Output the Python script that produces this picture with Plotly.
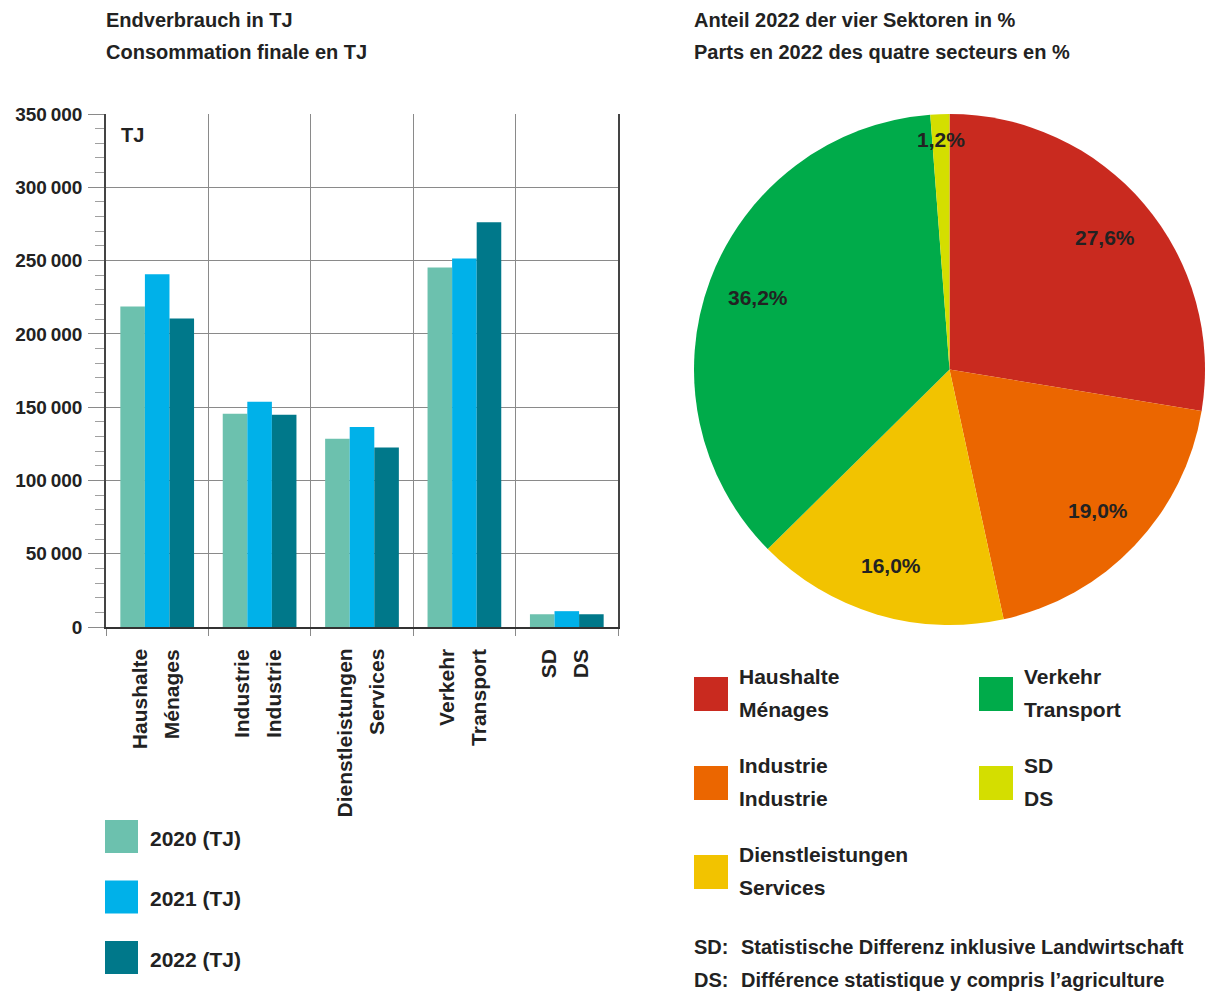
import math
import plotly.graph_objects as go

W, H = 1219, 994
OFF = 8  # the page body margin shifts the figure by this many pixels

# --- data -----------------------------------------------------------------
CAT_DE = ["Haushalte", "Industrie", "Dienstleistungen", "Verkehr", "SD"]
CAT_FR = ["Ménages", "Industrie", "Services", "Transport", "DS"]

YEARS = ["2020 (TJ)", "2021 (TJ)", "2022 (TJ)"]
TJ_2020 = [218700, 145500, 128500, 245300, 8700]
TJ_2021 = [240600, 153700, 136500, 251400, 10800]
TJ_2022 = [210400, 144800, 122400, 276100, 8700]
BAR_COLORS = ["#6cc1ae", "#00b1e9", "#00788a"]

Y_TICKS = [0, 50000, 100000, 150000, 200000, 250000, 300000, 350000]
Y_LABELS = ["0", "50\u2009000", "100\u2009000", "150\u2009000", "200\u2009000",
            "250\u2009000", "300\u2009000", "350\u2009000"]

PIE_LABELS = ["Haushalte", "Industrie", "Dienstleistungen", "Verkehr", "SD"]
PIE_LABELS_FR = ["Ménages", "Industrie", "Services", "Transport", "DS"]
PIE_SHARES = [27.6, 19.0, 16.0, 36.2, 1.2]
PIE_TEXT = ["27,6%", "19,0%", "16,0%", "36,2%", "1,2%"]
PIE_COLORS = ["#c92a1f", "#eb6600", "#f2c300", "#00ab4a", "#d4de00"]

FONT = "Liberation Sans, Arial, sans-serif"
TXT = "#222222"


def px(x):
    return (x - OFF) / W


def py(y):
    return 1 - (y - OFF) / H


def label(x, y, text, size=21, xanchor="left", yanchor="middle", **kw):
    d = dict(x=x, y=y, text=f"<b>{text}</b>", xanchor=xanchor, yanchor=yanchor,
             showarrow=False, borderpad=0, borderwidth=0,
             font=dict(size=size, color=TXT, family=FONT))
    d.setdefault("xref", "paper")
    d.setdefault("yref", "paper")
    d.update(kw)
    return d


fig = go.Figure()

# --- bar chart ------------------------------------------------------------
for name, vals, col in zip(YEARS, [TJ_2020, TJ_2021, TJ_2022], BAR_COLORS):
    fig.add_trace(go.Bar(
        x=list(range(len(CAT_DE))), y=vals, name=name,
        marker=dict(color=col, line=dict(width=0)),
        showlegend=False, hoverinfo="y+name",
    ))

# --- pie ------------------------------------------------------------------
pie_x = [694, 1205]
pie_y = [114, 625]
fig.add_trace(go.Pie(
    labels=PIE_LABELS, values=PIE_SHARES, sort=False,
    direction="clockwise", rotation=0,
    marker=dict(colors=PIE_COLORS, line=dict(width=0)),
    textinfo="none", showlegend=False, automargin=False,
    domain=dict(x=[px(pie_x[0]), px(pie_x[1])], y=[py(pie_y[1]), py(pie_y[0])]),
))

ann = []
shapes = []

# pie percentage labels, on each slice's mid angle
cx = (pie_x[0] + pie_x[1]) / 2
cy = (pie_y[0] + pie_y[1]) / 2
R = (pie_x[1] - pie_x[0]) / 2
total = sum(PIE_SHARES)
cum = 0
for v, t in zip(PIE_SHARES, PIE_TEXT):
    mid = (cum + v / 2) / total * 2 * math.pi
    cum += v
    r = R * (0.9 if v < 5 else 0.8)
    ann.append(label(px(cx + r * math.sin(mid)), py(cy - r * math.cos(mid)), t,
                     xanchor="center"))

# titles
for x0, lines in [(106, ["Endverbrauch in TJ", "Consommation finale en TJ"]),
                  (694, ["Anteil 2022 der vier Sektoren in %",
                         "Parts en 2022 des quatre secteurs en %"])]:
    for i, line in enumerate(lines):
        ann.append(label(px(x0), py(20 + 32 * i), line, size=20))

# "TJ" inside plot
ann.append(label(px(121), py(135), "TJ", size=20))

# rotated category labels
for i, (de, fr) in enumerate(zip(CAT_DE, CAT_FR)):
    for txt, shift in [(de, -18), (fr, 14)]:
        ann.append(label(i, py(649), txt, xref="x", textangle=-90,
                         xanchor="center", yanchor="top", xshift=shift))

# bar legend
for i, (name, col) in enumerate(zip(YEARS, BAR_COLORS)):
    top = 820 + 60.5 * i
    shapes.append(dict(type="rect", xref="paper", yref="paper",
                       x0=px(105), x1=px(138), y0=py(top + 33), y1=py(top),
                       fillcolor=col, line=dict(width=0)))
    ann.append(label(px(150), py(top + 18), name))

# pie legend (two columns)
for i, (de, fr, col) in enumerate(zip(PIE_LABELS, PIE_LABELS_FR, PIE_COLORS)):
    col_i, row_i = (0, i) if i < 3 else (1, i - 3)
    sx = 694 + 285 * col_i
    top = 677 + 89 * row_i
    shapes.append(dict(type="rect", xref="paper", yref="paper",
                       x0=px(sx), x1=px(sx + 34), y0=py(top + 34), y1=py(top),
                       fillcolor=col, line=dict(width=0)))
    for j, txt in enumerate([de, fr]):
        ann.append(label(px(sx + 45), py(top - 1 + 33 * j), txt))

# footnote
for j, (k, txt) in enumerate([("SD:", "Statistische Differenz inklusive Landwirtschaft"),
                              ("DS:", "Différence statistique y compris l’agriculture")]):
    ann.append(label(px(694), py(947 + 33 * j), k, size=20))
    ann.append(label(px(741), py(947 + 33 * j), txt, size=20))

fig.update_layout(
    width=W, height=H,
    margin=dict(l=0, r=0, t=0, b=0, autoexpand=False),
    paper_bgcolor="white", plot_bgcolor="white",
    barmode="group", bargap=0.28, bargroupgap=0,
    font=dict(family=FONT, color=TXT),
    xaxis=dict(
        domain=[px(106), px(618)], range=[-0.5, len(CAT_DE) - 0.5],
        tickvals=[i - 0.5 for i in range(len(CAT_DE) + 1)],
        showticklabels=False, ticks="outside", ticklen=7, tickcolor="#8a8a8a",
        showgrid=True, gridcolor="#8a8a8a", gridwidth=1,
        showline=True, linecolor="#333333", linewidth=2, mirror=False,
        zeroline=False, fixedrange=True, automargin=False,
    ),
    yaxis=dict(
        domain=[py(627), py(114)], range=[0, 350000],
        tickvals=Y_TICKS, ticktext=[f"<b>{t}</b>" for t in Y_LABELS],
        ticks="outside", ticklen=16, tickcolor="#8a8a8a", tickwidth=1,
        tickfont=dict(size=19, color=TXT, family=FONT), ticklabelstandoff=2,
        minor=dict(dtick=10000, tick0=0, ticks="outside", ticklen=9,
                   tickcolor="#a0a0a0", showgrid=False),
        showgrid=True, gridcolor="#8a8a8a", gridwidth=1,
        showline=True, linecolor="#444444", linewidth=1.5, mirror=True,
        zeroline=False, fixedrange=True, automargin=False,
    ),
    annotations=ann,
    shapes=shapes,
)

fig.write_html("out.html")
